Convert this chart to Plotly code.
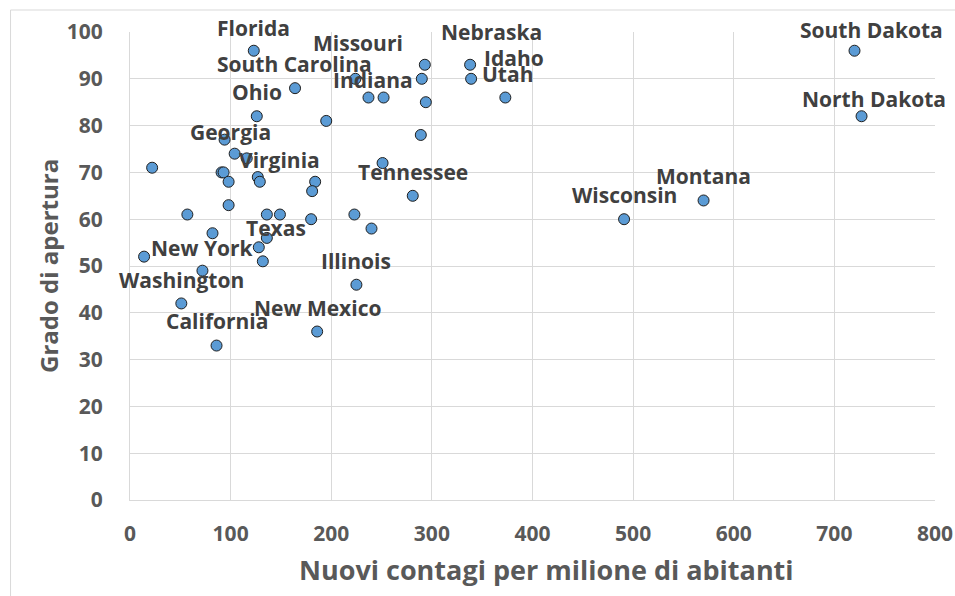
import plotly.graph_objects as go

# New infections per million inhabitants vs. degree of reopening, by US state
contagi = [123, 164, 126, 195, 94, 104, 116, 22, 91, 93, 98, 127, 129, 184, 181,
           224, 237, 252, 251, 293, 290, 294, 289, 338, 339, 373, 281,
           720, 727, 570, 491,
           98, 57, 136, 149, 180, 223, 240, 82, 136, 128, 132, 14, 72, 225, 51, 186, 86]
apertura = [96, 88, 82, 81, 77, 74, 73, 71, 70, 70, 68, 69, 68, 68, 66,
            90, 86, 86, 72, 93, 90, 85, 78, 93, 90, 86, 65,
            96, 82, 64, 60,
            63, 61, 61, 61, 60, 61, 58, 57, 56, 54, 51, 52, 49, 46, 42, 36, 33]

# State name -> index of the point it labels
etichette = [
    ("Florida", 0), ("South Carolina", 1), ("Ohio", 2), ("Georgia", 5),
    ("Virginia", 12), ("Missouri", 15), ("Indiana", 20), ("Nebraska", 23),
    ("Idaho", 23), ("Utah", 24), ("Tennessee", 26), ("South Dakota", 27),
    ("North Dakota", 28), ("Montana", 29), ("Wisconsin", 30), ("Texas", 40),
    ("New York", 43), ("Illinois", 44), ("Washington", 45), ("New Mexico", 46),
    ("California", 47),
]

x_ticks = [0, 100, 200, 300, 400, 500, 600, 700, 800]
y_ticks = [0, 10, 20, 30, 40, 50, 60, 70, 80, 90, 100]

# label placement relative to its point: (dx px, dy px, xanchor)
placement = {
    "Florida": (0, -23, "center"), "South Carolina": (-1, -24, "center"),
    "Ohio": (0, -24, "center"), "Georgia": (-4, -22, "center"),
    "Virginia": (20, -22, "center"), "Missouri": (3, -36, "center"),
    "Indiana": (-7, 1, "right"), "Nebraska": (21, -33, "center"),
    "Idaho": (12, -7, "left"), "Utah": (9, -5, "left"),
    "Tennessee": (0, -24, "center"), "South Dakota": (17, -21, "center"),
    "North Dakota": (12, -17, "center"), "Montana": (0, -24, "center"),
    "Wisconsin": (0, -24, "center"), "Texas": (17, -19, "center"),
    "New York": (0, -23, "center"), "Illinois": (0, -24, "center"),
    "Washington": (0, -23, "center"), "New Mexico": (0, -24, "center"),
    "California": (0, -25, "center"),
}

FONT = "Open Sans"
GRID = "#d9d9d9"

fig = go.Figure()
fig.add_trace(go.Scatter(
    x=contagi, y=apertura, mode="markers",
    marker=dict(size=11, color="#5b9bd5", line=dict(color="#1f1f1f", width=1)),
    hoverinfo="x+y", showlegend=False,
))

annotations = []
for name, idx in etichette:
    dx, dy, anchor = placement[name]
    annotations.append(dict(
        x=contagi[idx], y=apertura[idx], xref="x", yref="y",
        text=f"<b>{name}</b>", showarrow=False,
        xshift=dx, yshift=-dy, xanchor=anchor, yanchor="middle",
        font=dict(family=FONT, size=21, color="#404040"),
    ))

# axis titles
annotations.append(dict(
    x=0.5168, y=-0.149, xref="paper", yref="paper", showarrow=False,
    text="<b>Nuovi contagi per milione di abitanti</b>",
    xanchor="center", yanchor="middle",
    font=dict(family=FONT, size=27, color="#595959"),
))
annotations.append(dict(
    x=-0.1019, y=0.5, xref="paper", yref="paper", showarrow=False,
    text="<b>Grado di apertura</b>", textangle=-90,
    xanchor="center", yanchor="middle",
    font=dict(family=FONT, size=24, color="#595959"),
))

fig.update_layout(
    width=955, height=596,
    margin=dict(l=130, r=20, t=32, b=96, autoexpand=False),
    paper_bgcolor="white", plot_bgcolor="white",
    annotations=annotations,
    shapes=[dict(type="rect", xref="paper", yref="paper",
                 x0=-0.1484, x1=1.2, y0=-0.3, y1=1.047,
                 line=dict(color=GRID, width=1), layer="below")],
    xaxis=dict(
        range=[0, 800], tickvals=x_ticks, showgrid=True, gridcolor=GRID,
        zeroline=False, showline=True, linecolor=GRID, automargin=False,
        ticks="", ticklabelstandoff=15,
        tickfont=dict(family=FONT, size=21, color="#595959", weight="bold"),
    ),
    yaxis=dict(
        range=[0, 100], tickvals=y_ticks, showgrid=True, gridcolor=GRID,
        zeroline=False, showline=True, linecolor=GRID, automargin=False,
        ticks="", ticklabelstandoff=22,
        tickfont=dict(family=FONT, size=21, color="#595959", weight="bold"),
    ),
)

fig.write_html("out.html")
